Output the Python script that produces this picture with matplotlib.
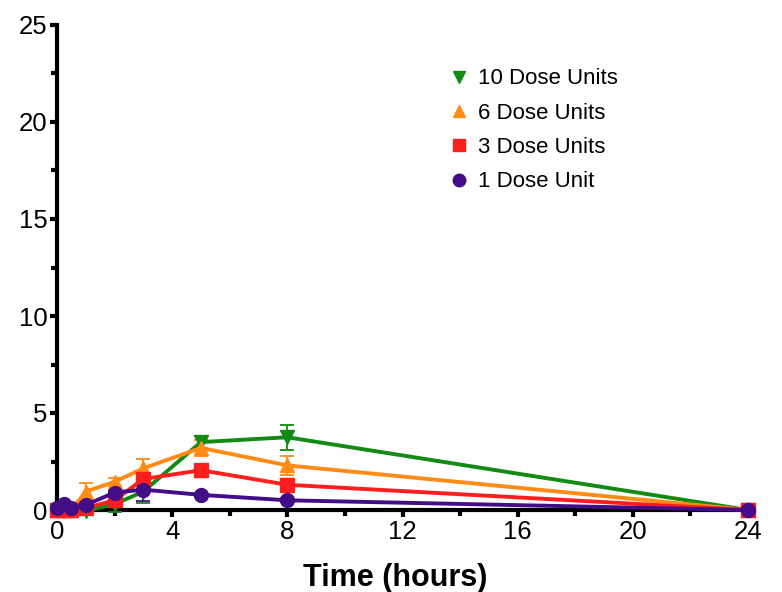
import matplotlib
matplotlib.use("Agg")
import matplotlib.pyplot as plt
from matplotlib.ticker import MultipleLocator
from matplotlib.lines import Line2D

plt.rcParams['font.family'] = ['Liberation Sans', 'DejaVu Sans']

time_h = [0, 0.25, 0.5, 1, 2, 3, 5, 8, 24]

dose10 = [0, 0, 0, -0.05, 0.3, 0.95, 3.5, 3.75, 0]
dose10_err = [0, 0, 0, 0, 0.4, 0.6, 0.3, 0.65, 0]
dose6 = [0, 0, 0, 0.95, 1.45, 2.15, 3.2, 2.3, 0]
dose6_err = [0, 0, 0, 0.45, 0.2, 0.5, 0.4, 0.5, 0]
dose3 = [0, 0, 0, 0.1, 0.5, 1.6, 2.05, 1.3, 0]
dose3_err = [0, 0, 0, 0.1, 0.15, 0.2, 0.2, 0.2, 0]
dose1 = [0.1, 0.3, 0.1, 0.26, 0.9, 1.05, 0.78, 0.5, 0]
dose1_err = [0, 0, 0, 0.05, 0.1, 0.6, 0.1, 0.1, 0]

series = [
    ("10 Dose Units", dose10, dose10_err, "#138a13", "v"),
    ("6 Dose Units", dose6, dose6_err, "#ff8a14", "^"),
    ("3 Dose Units", dose3, dose3_err, "#ff1e1e", "s"),
    ("1 Dose Unit", dose1, dose1_err, "#420d86", "o"),
]

fig = plt.figure(figsize=(7.82, 5.92), dpi=100)
ax = fig.add_axes([57/782, (592-510)/592, 691/782, 485/592])

for label, vals, err, col, mk in series:
    ax.errorbar(time_h, vals, yerr=err, color=col, marker=mk, markersize=10,
                linewidth=2.8, elinewidth=1.3, capsize=5, capthick=1.3,
                label=label, clip_on=False, zorder=3)

ax.set_xlim(0, 24)
ax.set_ylim(0, 25)
ax.xaxis.set_major_locator(MultipleLocator(4))
ax.xaxis.set_minor_locator(MultipleLocator(2))
ax.yaxis.set_major_locator(MultipleLocator(5))
ax.yaxis.set_minor_locator(MultipleLocator(2.5))

for s in ['top', 'right']:
    ax.spines[s].set_visible(False)
for s in ['left', 'bottom']:
    ax.spines[s].set_linewidth(3)
ax.tick_params(which='major', length=5, width=3, labelsize=18.5, pad=2)
ax.tick_params(which='minor', length=4, width=3)

ax.set_xlabel("Time (hours)", fontsize=22, fontweight='bold')
ax.xaxis.set_label_coords(0.49, -0.11)

hl = [Line2D([], [], color=c, marker=m, linestyle='none', markersize=9) for _, _, _, c, m in series]
ax.legend(hl, [s[0] for s in series], loc='upper left', bbox_to_anchor=(0.533, 0.952),
          frameon=False, fontsize=16, handletextpad=0.25, labelspacing=0.6,
          handlelength=1.2)

fig.savefig("out.png", dpi=100)
